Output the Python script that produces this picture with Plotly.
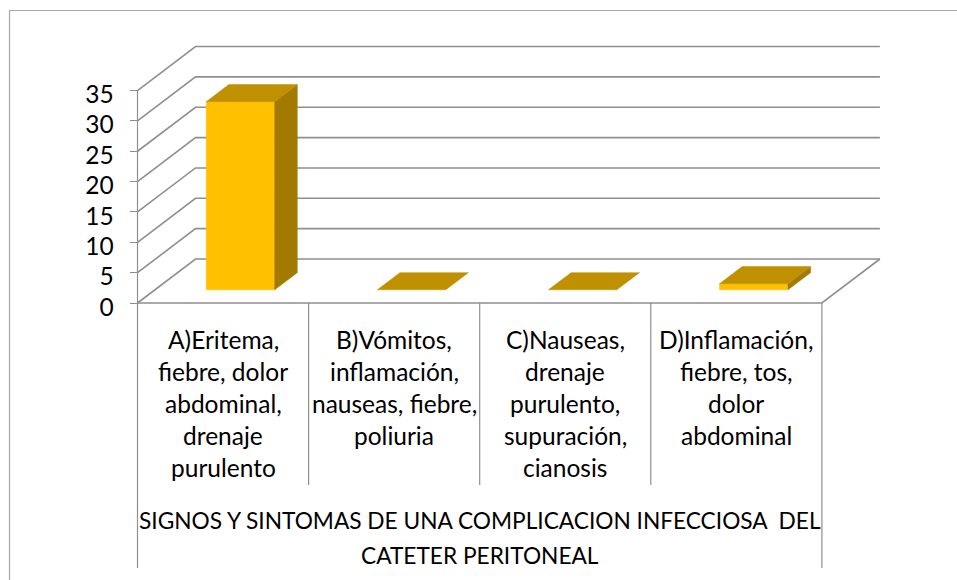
import plotly.graph_objects as go

# ---- data ----
category_lines = [
    ["A)Eritema,", "fiebre, dolor", "abdominal,", "drenaje", "purulento"],
    ["B)Vómitos,", "inflamación,", "nauseas, fiebre,", "poliuria"],
    ["C)Nauseas,", "drenaje", "purulento,", "supuración,", "cianosis"],
    ["D)Inflamación,", "fiebre, tos,", "dolor", "abdominal"],
]
group_lines = ["SIGNOS Y SINTOMAS DE UNA COMPLICACION INFECCIOSA\u00a0 DEL", "CATETER PERITONEAL"]
values = [31, 0, 0, 1]
y_ticks = [0, 5, 10, 15, 20, 25, 30, 35]

# ---- layout ----
W, H = 957, 580
X0, Y0 = 137.5, 303.0      # pixel of the front-left floor corner
UX = 171.1                 # pixels per category
UY = 6.07                  # pixels per value unit
DX, DY = 58 / UX, 44 / UY  # oblique projection of full depth, in axis units
GRID = "#8f8f8f"
FRONT, TOP, SIDE = "#FFC000", "#BF9000", "#A37A00"
FONT = "Lato"
FS_TICK, FS_TEXT, FS_GROUP = 24.5, 24.5, 22.7
n = len(values)


def P(x, v, d=0.0):
    """Project category position x, value v and depth d into axis units."""
    return x + DX * d, v + DY * d


def line(pts, width=1.6, color=GRID):
    return go.Scatter(x=[p[0] for p in pts], y=[p[1] for p in pts], mode="lines",
                      line=dict(color=color, width=width), hoverinfo="skip", showlegend=False)


def face(pts, color):
    pts = pts + [pts[0]]
    return go.Scatter(x=[p[0] for p in pts], y=[p[1] for p in pts], mode="lines", fill="toself",
                      fillcolor=color, line=dict(color=color, width=0.5), hoverinfo="skip", showlegend=False)


fig = go.Figure()

# walls and floor
for t in y_ticks:
    fig.add_trace(line([P(0, t), P(0, t, 1), P(n, t, 1)]))
fig.add_trace(line([P(0, 0), P(n, 0), P(n, 0, 1)]))

# table under the axis (value units below zero)
v_mid = -(485 - Y0) / UY
v_end = -(568 - Y0) / UY
fig.add_trace(line([P(0, y_ticks[-1]), P(0, v_end)], 1.2))
fig.add_trace(line([P(n, 0), P(n, v_end)], 1.2))
for i in range(1, n):
    fig.add_trace(line([P(i, 0), P(i, v_mid)], 1.2))

# bars
gap, d0, d1 = 0.3, 0.3, 0.69
for i, v in enumerate(values):
    a, b = i + gap, i + 1 - gap
    if v > 0:
        fig.add_trace(face([P(a, 0, d0), P(b, 0, d0), P(b, v, d0), P(a, v, d0)], FRONT))
        fig.add_trace(face([P(b, 0, d0), P(b, 0, d1), P(b, v, d1), P(b, v, d0)], SIDE))
    fig.add_trace(face([P(a, v, d0), P(b, v, d0), P(b, v, d1), P(a, v, d1)], TOP))

# text
ann = []
text_font = dict(family=FONT, size=FS_TEXT, color="#000000")
group_font = dict(family=FONT, size=FS_GROUP, color="#000000")
for i, lines in enumerate(category_lines):
    for k, s in enumerate(lines):
        ann.append(dict(x=i + 0.5, y=-(339 + 32 * k - Y0) / UY, xref="x", yref="y", text=s, showarrow=False,
                        xanchor="center", yanchor="middle", font=text_font))
for s, py in zip(group_lines, [520, 555]):
    ann.append(dict(x=n / 2, y=-(py - Y0) / UY, xref="x", yref="y", text=s, showarrow=False,
                    xanchor="center", yanchor="middle", font=group_font))

border = dict(type="line", xref="paper", yref="paper", line=dict(color="#a6a6a6", width=1.2))
shapes = [
    dict(border, x0=9.5 / W, x1=9.5 / W, y0=0, y1=1 - 10.5 / H),
    dict(border, x0=9.5 / W, x1=1, y0=1 - 10.5 / H, y1=1 - 10.5 / H),
]

fig.update_layout(
    width=W, height=H, margin=dict(l=0, r=0, t=0, b=0),
    paper_bgcolor="white", plot_bgcolor="white", showlegend=False,
    annotations=ann, shapes=shapes,
    xaxis=dict(range=[-X0 / UX, (W - X0) / UX], visible=False, fixedrange=True),
    yaxis=dict(range=[-(H - Y0) / UY, Y0 / UY], anchor="free", position=X0 / W, side="left",
               tickmode="array", tickvals=y_ticks, ticktext=[str(t) for t in y_ticks],
               ticks="outside", ticklen=8, tickcolor=GRID, tickwidth=1.2, ticklabelstandoff=11,
               ticklabelshift=4,
               tickfont=dict(family=FONT, size=FS_TICK, color="#000000"),
               showgrid=False, zeroline=False, showline=False, fixedrange=True),
)

fig.write_html("out.html", config={"displayModeBar": False},
               post_script="document.body.style.margin='0';document.body.style.overflow='hidden';")
